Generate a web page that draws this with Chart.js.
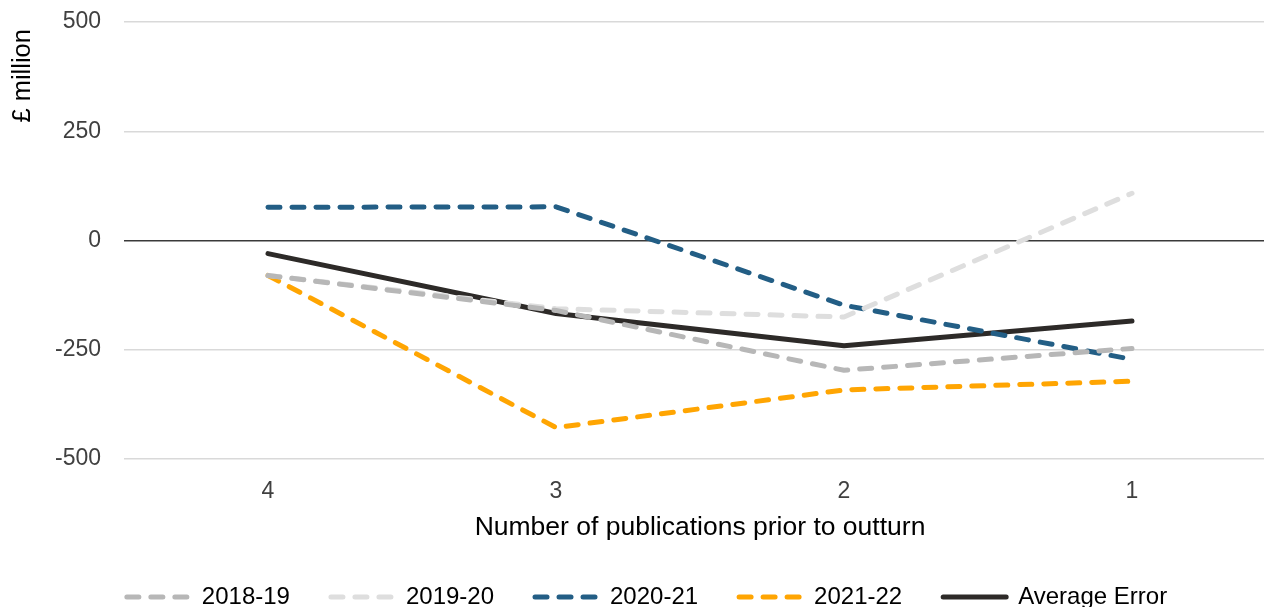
<!DOCTYPE html>
<html>
<head>
<meta charset="utf-8">
<script src="https://cdn.jsdelivr.net/npm/chart.js@4.4.1/dist/chart.umd.min.js"></script>
<style>
  html, body { margin: 0; padding: 0; overflow: hidden; background: #fff; }
  #wrap { position: absolute; left: 0; top: 0; width: 1276px; height: 619px; }
</style>
</head>
<body>
<div id="wrap"><canvas id="myChart"></canvas></div>
<script>
// publications prior to outturn
let categorie = ['4', '3', '2', '1'];

let serie2018 = [-80, -160, -297, -247];
let serie2019 = [-80, -156, -175, 108];
let serie2020 = [76, 77, -148, -272];
let serie2021 = [-80, -428, -342, -322];
let mediaErrore = [-30, -167, -241, -184];

let tickY = [500, 250, 0, -250, -500];

const fontName = '"Liberation Sans", Arial, sans-serif';

var ctx = document.getElementById('myChart').getContext('2d');

var chart = new Chart(ctx, {
  type: 'line',
  data: {
    labels: categorie,
    datasets: [{
      label: '2018-19',
      data: serie2018,
      borderColor: '#b7b7b7',
      borderDash: [12, 12]
    }, {
      label: '2019-20',
      data: serie2019,
      borderColor: '#dedede',
      borderDash: [12, 12]
    }, {
      label: '2020-21',
      data: serie2020,
      borderColor: '#235e85',
      borderDash: [12, 12]
    }, {
      label: '2021-22',
      data: serie2021,
      borderColor: '#ffa502',
      borderDash: [12, 12]
    }, {
      label: 'Average Error',
      data: mediaErrore,
      borderColor: '#2d2a28',
      borderDash: []
    }]
  },
  options: {
    responsive: true,
    maintainAspectRatio: false,
    animation: false,
    layout: { padding: { left: 18, right: 0, top: 22, bottom: 0 } },
    elements: {
      line: { borderWidth: 5, tension: 0, fill: false, borderCapStyle: 'round', borderJoinStyle: 'round' },
      point: { radius: 0, hoverRadius: 0 }
    },
    plugins: {
      tooltip: { enabled: false },
      legend: {
        position: 'bottom',
        labels: {
          usePointStyle: true,
          pointStyleWidth: 63,
          padding: 41,
          color: '#000',
          font: { family: fontName, size: 24 },
          generateLabels: function(c) {
            return c.data.datasets.map(function(ds, i) {
              return {
                text: ds.label,
                fillStyle: ds.borderColor,
                strokeStyle: ds.borderColor,
                lineWidth: 5,
                lineDash: ds.borderDash,
                lineCap: 'round',
                pointStyle: 'line',
                fontColor: '#000',
                hidden: false,
                datasetIndex: i
              };
            });
          }
        }
      }
    },
    scales: {
      x: {
        offset: true,
        grid: { display: false },
        border: { display: false },
        ticks: { color: '#404040', padding: 11, font: { family: fontName, size: 23 } },
        title: {
          display: true,
          text: 'Number of publications prior to outturn',
          color: '#000',
          padding: { top: 0, bottom: 0.5 },
          font: { family: fontName, size: 26.5 }
        },
        afterFit: function(scale) { scale.height = 85; }
      },
      y: {
        min: -500,
        max: 500,
        afterBuildTicks: function(scale) {
          scale.ticks = tickY.map(function(v) { return { value: v }; });
        },
        grid: {
          drawTicks: true,
          tickLength: 23,
          tickColor: 'rgba(0,0,0,0)',
          lineWidth: 1.5,
          color: function(c) { return c.tick && c.tick.value === 0 ? '#3a3a3a' : '#d9d9d9'; }
        },
        border: { display: false },
        ticks: { color: '#404040', padding: 0, font: { family: fontName, size: 23 } },
        title: {
          display: true,
          text: '£ million\u00a0',
          align: 'end',
          color: '#000',
          padding: { top: -10, bottom: 0 },
          font: { family: fontName, size: 25.5 }
        },
        afterFit: function(scale) { scale.width = 106; }
      }
    }
  }
});
</script>
</body>
</html>
